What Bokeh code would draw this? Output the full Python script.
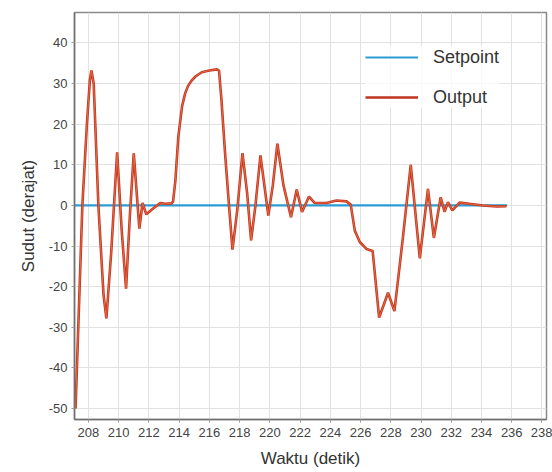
from bokeh.plotting import figure
from bokeh.models import FixedTicker, Range1d, Legend, LegendItem, PrintfTickFormatter
from bokeh.embed import file_html
from bokeh.resources import INLINE

# Data
setpoint_t = [207.1, 235.7]
setpoint_v = [0, 0]

output_t = [207.15, 207.6, 207.9, 208.1, 208.2, 208.35, 208.66, 209.0, 209.19, 209.5,
            209.9, 210.2, 210.49, 210.75, 211.0, 211.37, 211.58,
            211.83, 212.2, 212.75, 213.1, 213.5, 213.6, 213.75, 213.95, 214.2, 214.4,
            214.6, 214.84, 215.1, 215.5, 216.0, 216.5, 216.64, 216.8, 217.04, 217.3,
            217.53, 217.85, 218.19, 218.5, 218.76, 219.05, 219.38, 219.9, 220.2, 220.5,
            220.9, 221.4, 221.78, 222.13, 222.59, 222.98, 223.75, 224.41, 225.07, 225.35,
            225.62, 225.95, 226.39, 226.8, 227.23, 227.82, 228.24, 228.8, 229.32, 229.92,
            230.46, 230.85, 231.3, 231.56, 231.78, 232.07, 232.55, 233.2, 234.1, 235.0,
            235.65]
output_v = [-50.0, 0.0, 20.0, 31.0, 33.2, 30.0, 0.0, -22.0, -27.8, -12.0,
            13.1, -6.0, -20.5, -2.0, 12.8, -5.7, 0.6,
            -2.2, -1.0, 0.6, 0.4, 0.5, 1.0, 6.0, 17.0, 24.5, 27.6,
            29.5, 30.8, 31.8, 32.8, 33.2, 33.5, 33.2, 26.0, 12.8, 0.0,
            -10.9, -1.0, 12.9, 3.0, -8.6, 0.0, 12.3, -2.5, 5.0, 15.2,
            5.0, -2.9, 3.9, -1.6, 2.2, 0.6, 0.6, 1.2, 1.0, 0.2,
            -6.2, -9.0, -10.7, -11.2, -27.6, -21.5, -26.0, -8.0, 10.0, -13.0,
            4.1, -8.0, 2.0, -1.6, 0.8, -1.2, 0.7, 0.4, 0.0, -0.25,
            -0.2]

x_ticks = list(range(208, 239, 2))
y_ticks = list(range(-50, 41, 10))

p = figure(width=552, height=472, output_backend="svg", toolbar_location=None,
           x_range=Range1d(207.08, 238.3), y_range=Range1d(-52.7, 47.5),
           min_border_left=74, min_border_right=6, min_border_top=12, min_border_bottom=53)

p.background_fill_color = "white"
p.border_fill_color = "white"
p.outline_line_color = "#8a8a8a"
p.outline_line_width = 1.5

for ax in (p.xaxis[0], p.yaxis[0]):
    ax.axis_line_color = "#707070"
    ax.axis_line_width = 1.5
    ax.major_tick_line_color = "#9a9a9a"
    ax.major_tick_in = 0
    ax.major_tick_out = 3
    ax.minor_tick_line_color = None
    ax.major_label_text_font = "Liberation Sans"
    ax.major_label_text_font_size = "13px"
    ax.major_label_text_color = "#444444"
    ax.axis_label_text_font = "Liberation Sans"
    ax.axis_label_text_font_size = "17px"
    ax.axis_label_text_font_style = "normal"
    ax.axis_label_text_color = "#333333"
    ax.formatter = PrintfTickFormatter(format="%d")

p.xaxis.ticker = FixedTicker(ticks=x_ticks)
p.yaxis.ticker = FixedTicker(ticks=y_ticks)
p.xaxis.axis_label = "Waktu (detik)"
p.yaxis.axis_label = "Sudut (derajat)"
p.xaxis.major_label_standoff = 5
p.xaxis.axis_label_standoff = 9
p.yaxis.major_label_standoff = 4
p.yaxis.axis_label_standoff = 8

p.xgrid.grid_line_color = "#e2e2e2"
p.ygrid.grid_line_color = "#e2e2e2"
p.xgrid.ticker = FixedTicker(ticks=x_ticks)
p.ygrid.ticker = FixedTicker(ticks=y_ticks)

sp = p.line(setpoint_t, setpoint_v, line_color="#2b9cd6", line_width=2.2)
out_dark = p.line(output_t, output_v, line_color="#bf3522", line_width=2.6)
out_light = p.line(output_t, output_v, line_color="#e8693f", line_width=1.0)

legend = Legend(items=[LegendItem(label="Setpoint", renderers=[sp]),
                       LegendItem(label="Output", renderers=[out_dark])],
                location=(291, 311))
legend.glyph_width = 53
legend.glyph_height = 22
legend.spacing = 18
legend.label_standoff = 15
legend.padding = 10
legend.border_line_color = None
legend.background_fill_color = "white"
legend.background_fill_alpha = 0.8
legend.label_text_font = "Liberation Sans"
legend.label_text_font_size = "18px"
legend.label_text_color = "#333333"
p.add_layout(legend, "center")

open("out.html", "w").write(file_html(p, INLINE))
